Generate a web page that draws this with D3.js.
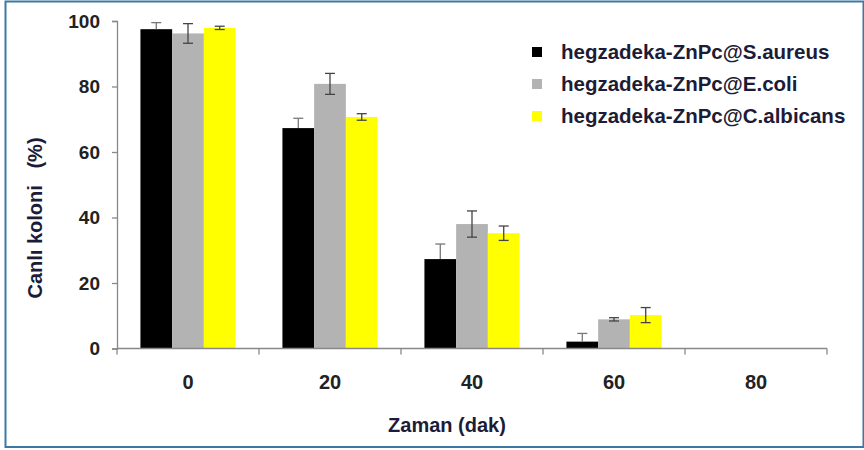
<!DOCTYPE html>
<html>
<head>
<meta charset="utf-8">
<script src="https://d3js.org/d3.v7.min.js"></script>
<style>
  body { margin: 0; background: #fff; }
  text { font-family: "Liberation Sans", Arial, sans-serif; font-weight: bold; }
</style>
</head>
<body>
<div id="chart"></div>
<script>
// data
var times = ["0", "20", "40", "60", "80"];
var seriesNames = ["hegzadeka-ZnPc@S.aureus", "hegzadeka-ZnPc@E.coli", "hegzadeka-ZnPc@C.albicans"];
var seriesColors = ["#000000", "#b3b3b3", "#ffff00"];
var aureus = [97.5, 67.3, 27.3, 2.1, 0];
var aureusErr = [2, 3, 4.6, 2.5, 0];
var coli = [96.2, 80.8, 38, 8.9, 0];
var coliErr = [3, 3.2, 4, 0.5, 0];
var albicans = [97.9, 70.7, 35.2, 10.2, 0];
var albicansErr = [0.5, 1, 2.2, 2.3, 0];
var yTicks = [0, 20, 40, 60, 80, 100];

var values = [aureus, coli, albicans];
var errors = [aureusErr, coliErr, albicansErr];

var W = 864, H = 450;
var plotL = 117, plotR = 827, plotT = 21, plotB = 348.5;

var svg = d3.select("#chart").append("svg")
    .attr("width", W)
    .attr("height", H);

// outer frame
svg.append("rect")
    .attr("x", 5.5).attr("y", 1.5)
    .attr("width", 858).attr("height", 445.5)
    .attr("fill", "none")
    .attr("stroke", "#3c78a3")
    .attr("stroke-width", 2);

var x = d3.scaleBand()
    .domain(times)
    .range([plotL, plotR])
    .paddingInner(0.33)
    .paddingOuter(0.165);

var xs = d3.scaleBand()
    .domain(d3.range(seriesNames.length))
    .range([0, x.bandwidth()]);

var y = d3.scaleLinear()
    .domain([0, 100])
    .range([plotB, plotT]);

// bars
var groups = svg.selectAll("g.grp")
    .data(times)
    .enter().append("g")
    .attr("class", "grp")
    .attr("transform", function(d) { return "translate(" + x(d) + ",0)"; });

groups.each(function(t, i) {
  var g = d3.select(this);
  for (var s = 0; s < seriesNames.length; s++) {
    var v = values[s][i];
    if (v <= 0) continue;
    g.append("rect")
      .attr("x", xs(s))
      .attr("y", y(v))
      .attr("width", xs.bandwidth())
      .attr("height", y(0) - y(v))
      .attr("fill", seriesColors[s]);
  }
});

// error bars
groups.each(function(t, i) {
  var g = d3.select(this);
  for (var s = 0; s < seriesNames.length; s++) {
    var v = values[s][i], e = errors[s][i];
    if (v <= 0 || e <= 0) continue;
    var cx = xs(s) + xs.bandwidth() / 2;
    var lo = s == 0 ? v : v - e; // black bars only show the upper whisker
    var eg = g.append("g").attr("stroke", s == 0 ? "#777" : "#444").attr("stroke-width", 1.3);
    eg.append("line").attr("x1", cx).attr("x2", cx).attr("y1", y(v + e)).attr("y2", y(lo));
    eg.append("line").attr("x1", cx - 5).attr("x2", cx + 5).attr("y1", y(v + e)).attr("y2", y(v + e));
    if (s != 0) {
      eg.append("line").attr("x1", cx - 5).attr("x2", cx + 5).attr("y1", y(v - e)).attr("y2", y(v - e));
    }
  }
});

// y axis
var yAxis = svg.append("g")
    .attr("transform", "translate(" + plotL + ",0)")
    .call(d3.axisLeft(y).tickValues(yTicks).tickSize(5).tickPadding(12));
yAxis.select(".domain").attr("stroke", "#888").attr("stroke-width", 1.3);
yAxis.selectAll(".tick line").attr("stroke", "#888").attr("stroke-width", 1.3);
yAxis.selectAll(".tick text")
    .attr("fill", "#222")
    .style("font-family", "'Liberation Sans', Arial, sans-serif")
    .style("font-size", "19px")
    .style("font-weight", "bold");

// x axis with ticks at band boundaries
svg.append("line")
    .attr("x1", plotL).attr("x2", plotR)
    .attr("y1", y(0)).attr("y2", y(0))
    .attr("stroke", "#888").attr("stroke-width", 1.3);

var bounds = times.map(function(d) { return x(d) - x.step() * x.paddingInner() / 2; });
bounds.push(plotR);
svg.selectAll("line.xtick")
    .data(bounds)
    .enter().append("line")
    .attr("class", "xtick")
    .attr("x1", function(d) { return d; })
    .attr("x2", function(d) { return d; })
    .attr("y1", y(0))
    .attr("y2", y(0) + 6)
    .attr("stroke", "#888").attr("stroke-width", 1.3);

svg.selectAll("text.xlab")
    .data(times)
    .enter().append("text")
    .attr("class", "xlab")
    .attr("x", function(d) { return x(d) + x.bandwidth() / 2; })
    .attr("y", 389)
    .attr("text-anchor", "middle")
    .attr("fill", "#222")
    .style("font-size", "20px")
    .text(function(d) { return d; });

// axis titles
svg.append("text")
    .attr("x", 447)
    .attr("y", 432)
    .attr("text-anchor", "middle")
    .attr("fill", "#1c1c38")
    .style("font-size", "20px")
    .text("Zaman (dak)");

svg.append("text")
    .attr("transform", "translate(42,218) rotate(-90)")
    .attr("text-anchor", "middle")
    .attr("fill", "#1c1c38")
    .style("font-size", "20px")
    .attr("xml:space", "preserve")
    .text("Canlı koloni   (%)");

// legend
var legend = svg.selectAll("g.leg")
    .data(seriesNames)
    .enter().append("g")
    .attr("class", "leg")
    .attr("transform", function(d, i) { return "translate(532," + (52 + i * 32) + ")"; });

legend.append("rect")
    .attr("x", 0).attr("y", -5)
    .attr("width", 10).attr("height", 10)
    .attr("fill", function(d, i) { return seriesColors[i]; });

legend.append("text")
    .attr("x", 29)
    .attr("y", 7)
    .attr("fill", "#1c1c38")
    .style("font-size", "20.5px")
    .text(function(d) { return d; });
</script>
</body>
</html>
